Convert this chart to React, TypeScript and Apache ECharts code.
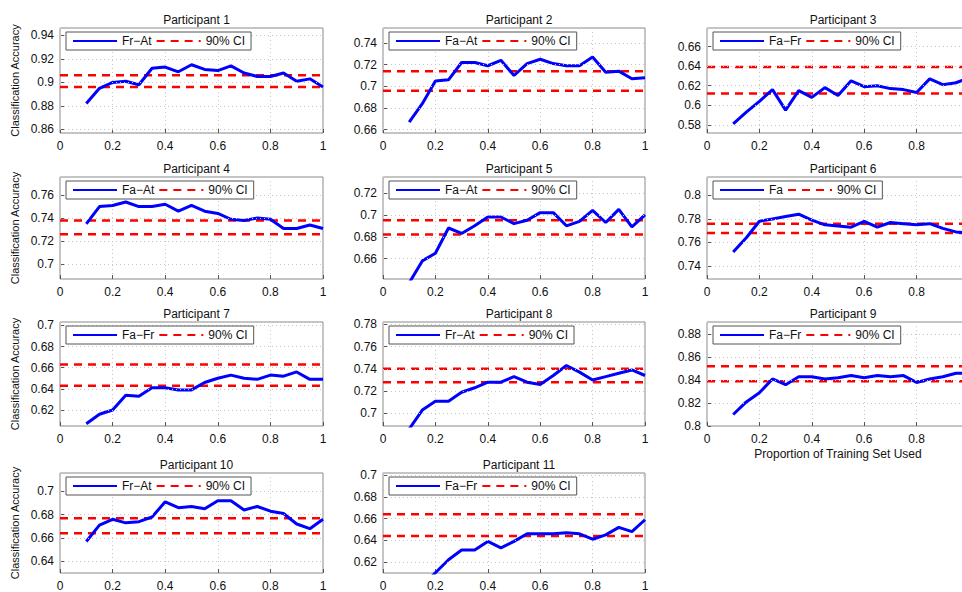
import React, { useEffect, useRef } from "react";
import * as echarts from "echarts";

const xValues = [0.1, 0.15, 0.2, 0.25, 0.3, 0.35, 0.4, 0.45, 0.5, 0.55, 0.6, 0.65, 0.7, 0.75, 0.8, 0.85, 0.9, 0.95, 1];

const titles = ["Participant 1", "Participant 2", "Participant 3", "Participant 4", "Participant 5", "Participant 6", "Participant 7", "Participant 8", "Participant 9", "Participant 10", "Participant 11"];
const pairNames = ["Fr−At", "Fa−At", "Fa−Fr", "Fa−At", "Fa−At", "Fa", "Fa−Fr", "Fr−At", "Fa−Fr", "Fr−At", "Fa−Fr"];

const acc1 = [0.882, 0.895, 0.9, 0.901, 0.898, 0.912, 0.913, 0.909, 0.915, 0.911, 0.91, 0.914, 0.908, 0.905, 0.905, 0.908, 0.901, 0.903, 0.896];
const acc2 = [0.667, 0.684, 0.705, 0.706, 0.722, 0.722, 0.719, 0.724, 0.71, 0.721, 0.725, 0.721, 0.719, 0.719, 0.727, 0.713, 0.714, 0.707, 0.708];
const acc3 = [0.581, 0.593, 0.604, 0.616, 0.595, 0.615, 0.608, 0.618, 0.61, 0.625, 0.619, 0.62, 0.617, 0.616, 0.613, 0.627, 0.621, 0.623, 0.628];
const acc4 = [0.735, 0.75, 0.751, 0.754, 0.75, 0.75, 0.752, 0.746, 0.751, 0.746, 0.744, 0.739, 0.738, 0.74, 0.739, 0.731, 0.731, 0.734, 0.731];
const acc5 = [0.638, 0.658, 0.665, 0.688, 0.683, 0.69, 0.698, 0.698, 0.692, 0.695, 0.702, 0.702, 0.69, 0.694, 0.704, 0.693, 0.705, 0.689, 0.7];
const acc6 = [0.752, 0.764, 0.778, 0.78, 0.782, 0.784, 0.779, 0.775, 0.774, 0.773, 0.778, 0.773, 0.777, 0.776, 0.775, 0.776, 0.772, 0.769, 0.768];
const acc7 = [0.607, 0.616, 0.62, 0.634, 0.633, 0.641, 0.641, 0.639, 0.639, 0.646, 0.65, 0.653, 0.65, 0.649, 0.653, 0.652, 0.656, 0.649, 0.649];
const acc8 = [0.686, 0.703, 0.711, 0.711, 0.719, 0.723, 0.728, 0.728, 0.733, 0.728, 0.726, 0.734, 0.743, 0.737, 0.73, 0.733, 0.736, 0.739, 0.734];
const acc9 = [0.81, 0.821, 0.829, 0.841, 0.836, 0.843, 0.843, 0.841, 0.842, 0.844, 0.842, 0.844, 0.843, 0.844, 0.838, 0.841, 0.843, 0.846, 0.846];
const acc10 = [0.657, 0.671, 0.676, 0.673, 0.674, 0.678, 0.691, 0.686, 0.687, 0.685, 0.692, 0.692, 0.684, 0.687, 0.683, 0.681, 0.672, 0.668, 0.676];
const acc11 = [0.59, 0.598, 0.61, 0.622, 0.631, 0.631, 0.639, 0.633, 0.639, 0.646, 0.646, 0.646, 0.647, 0.646, 0.641, 0.645, 0.652, 0.648, 0.659];
const accuracies = [acc1, acc2, acc3, acc4, acc5, acc6, acc7, acc8, acc9, acc10, acc11];

const ciUpper = [0.906, 0.714, 0.639, 0.738, 0.695, 0.776, 0.663, 0.74, 0.852, 0.677, 0.664];
const ciLower = [0.896, 0.696, 0.612, 0.726, 0.682, 0.768, 0.643, 0.728, 0.839, 0.664, 0.644];

const yMins = [0.857, 0.657, 0.5716, 0.6871, 0.6415, 0.729, 0.6049, 0.6887, 0.8, 0.63, 0.6098];
const yMaxs = [0.9462, 0.7538, 0.679, 0.7757, 0.7345, 0.8156, 0.7032, 0.782, 0.8907, 0.7157, 0.7022];
const yTicks = [
  [0.86, 0.88, 0.9, 0.92, 0.94],
  [0.66, 0.68, 0.7, 0.72, 0.74],
  [0.58, 0.6, 0.62, 0.64, 0.66],
  [0.7, 0.72, 0.74, 0.76],
  [0.66, 0.68, 0.7, 0.72],
  [0.74, 0.76, 0.78, 0.8],
  [0.62, 0.64, 0.66, 0.68, 0.7],
  [0.7, 0.72, 0.74, 0.76, 0.78],
  [0.8, 0.82, 0.84, 0.86, 0.88],
  [0.64, 0.66, 0.68, 0.7],
  [0.62, 0.64, 0.66, 0.68, 0.7],
];

const colLefts = [60, 383, 707];
const colWidths = [263, 262, 262];
const rowTops = [28, 177, 322, 473];
const rowHeights = [105, 102, 104, 101];

const FONT = "Liberation Sans, Arial, sans-serif";

function buildOption() {
  const grid: any[] = [], xAxis: any[] = [], yAxis: any[] = [], series: any[] = [], title: any[] = [], legend: any[] = [];
  titles.forEach((t, i) => {
    const r = Math.floor(i / 3), c = i % 3;
    const left = colLefts[c], top = rowTops[r], width = colWidths[c], height = rowHeights[r];
    grid.push({ left, top, width, height, show: true, borderColor: "#8a8a8a", borderWidth: 1, backgroundColor: "#fff", containLabel: false });
    title.push({ text: t, left: left + width / 2, top: top - 19, textAlign: "center", textStyle: { fontFamily: FONT, fontSize: 12, fontWeight: "normal", color: "#111" } });
    xAxis.push({
      type: "value", gridIndex: i, min: 0, max: 1, interval: 0.2,
      name: i === 8 ? "Proportion of Training Set Used" : "", nameLocation: "middle", nameGap: 22,
      nameTextStyle: { fontFamily: FONT, fontSize: 12, color: "#111" },
      axisLine: { show: false },
      axisTick: { show: true, inside: true, length: 4, lineStyle: { color: "#555" } },
      axisLabel: { fontFamily: FONT, fontSize: 12, color: "#111", margin: 7, showMaxLabel: c !== 2, formatter: (v: number) => String(+v.toFixed(2)) },
      splitLine: { show: true, lineStyle: { color: "#c8c8c8", type: [1, 3] } },
    });
    yAxis.push({
      type: "value", gridIndex: i, min: yMins[i], max: yMaxs[i],
      name: c === 0 ? "Classification Accuracy" : "", nameLocation: "middle", nameGap: 40,
      nameTextStyle: { fontFamily: FONT, fontSize: 11, color: "#111" },
      axisLine: { show: false },
      axisTick: { show: true, inside: true, length: 4, lineStyle: { color: "#555" }, customValues: yTicks[i] },
      axisLabel: { fontFamily: FONT, fontSize: 12, color: "#111", margin: 6, customValues: yTicks[i], formatter: (v: number) => String(+v.toFixed(2)) },
      splitLine: { show: false },
    });
    series.push({
      type: "line", name: "grid" + i, xAxisIndex: i, yAxisIndex: i, data: [], silent: true,
      markLine: { silent: true, symbol: "none", label: { show: false }, lineStyle: { color: "#c8c8c8", type: [1, 3], width: 1 }, data: yTicks[i].map((v) => ({ yAxis: v })) },
    });
    ["u", "l"].forEach((k) => {
      const v = k === "u" ? ciUpper[i] : ciLower[i];
      series.push({
        type: "line", name: "90% CI", xAxisIndex: i, yAxisIndex: i, data: [[0, v], [1, v]], symbol: "none", showSymbol: false,
        lineStyle: { color: "#ff0000", width: 2.5, type: [8, 6] }, itemStyle: { color: "#ff0000" }, z: 3,
      });
    });
    series.push({
      type: "line", name: pairNames[i], xAxisIndex: i, yAxisIndex: i, data: xValues.map((x, j) => [x, accuracies[i][j]]),
      symbol: "none", showSymbol: false, clip: true, lineStyle: { color: "#0000ff", width: 3 }, itemStyle: { color: "#0000ff" }, z: 4,
    });
    legend.push({
      data: [pairNames[i], "90% CI"], left: left + 6, top: top + 4, orient: "horizontal",
      itemStyle: { opacity: 0 },
      backgroundColor: "#fff", borderColor: "#555", borderWidth: 1, padding: [3, 6], itemGap: 4,
      itemWidth: 44, itemHeight: 12, selectedMode: false,
      textStyle: { fontFamily: FONT, fontSize: 12, color: "#111" }, z: 10,
    });
  });
  return { animation: false, backgroundColor: "#fff", grid, xAxis, yAxis, series, title, legend };
}

export default function App() {
  const ref = useRef<HTMLDivElement>(null);
  useEffect(() => {
    document.body.style.margin = "0";
    document.body.style.overflow = "hidden";
    const chart = echarts.init(ref.current!, null, { renderer: "svg" });
    chart.setOption(buildOption() as any);
    return () => chart.dispose();
  }, []);
  return <div ref={ref} style={{ position: "absolute", left: 0, top: 0, width: 985, height: 592 }} />;
}
